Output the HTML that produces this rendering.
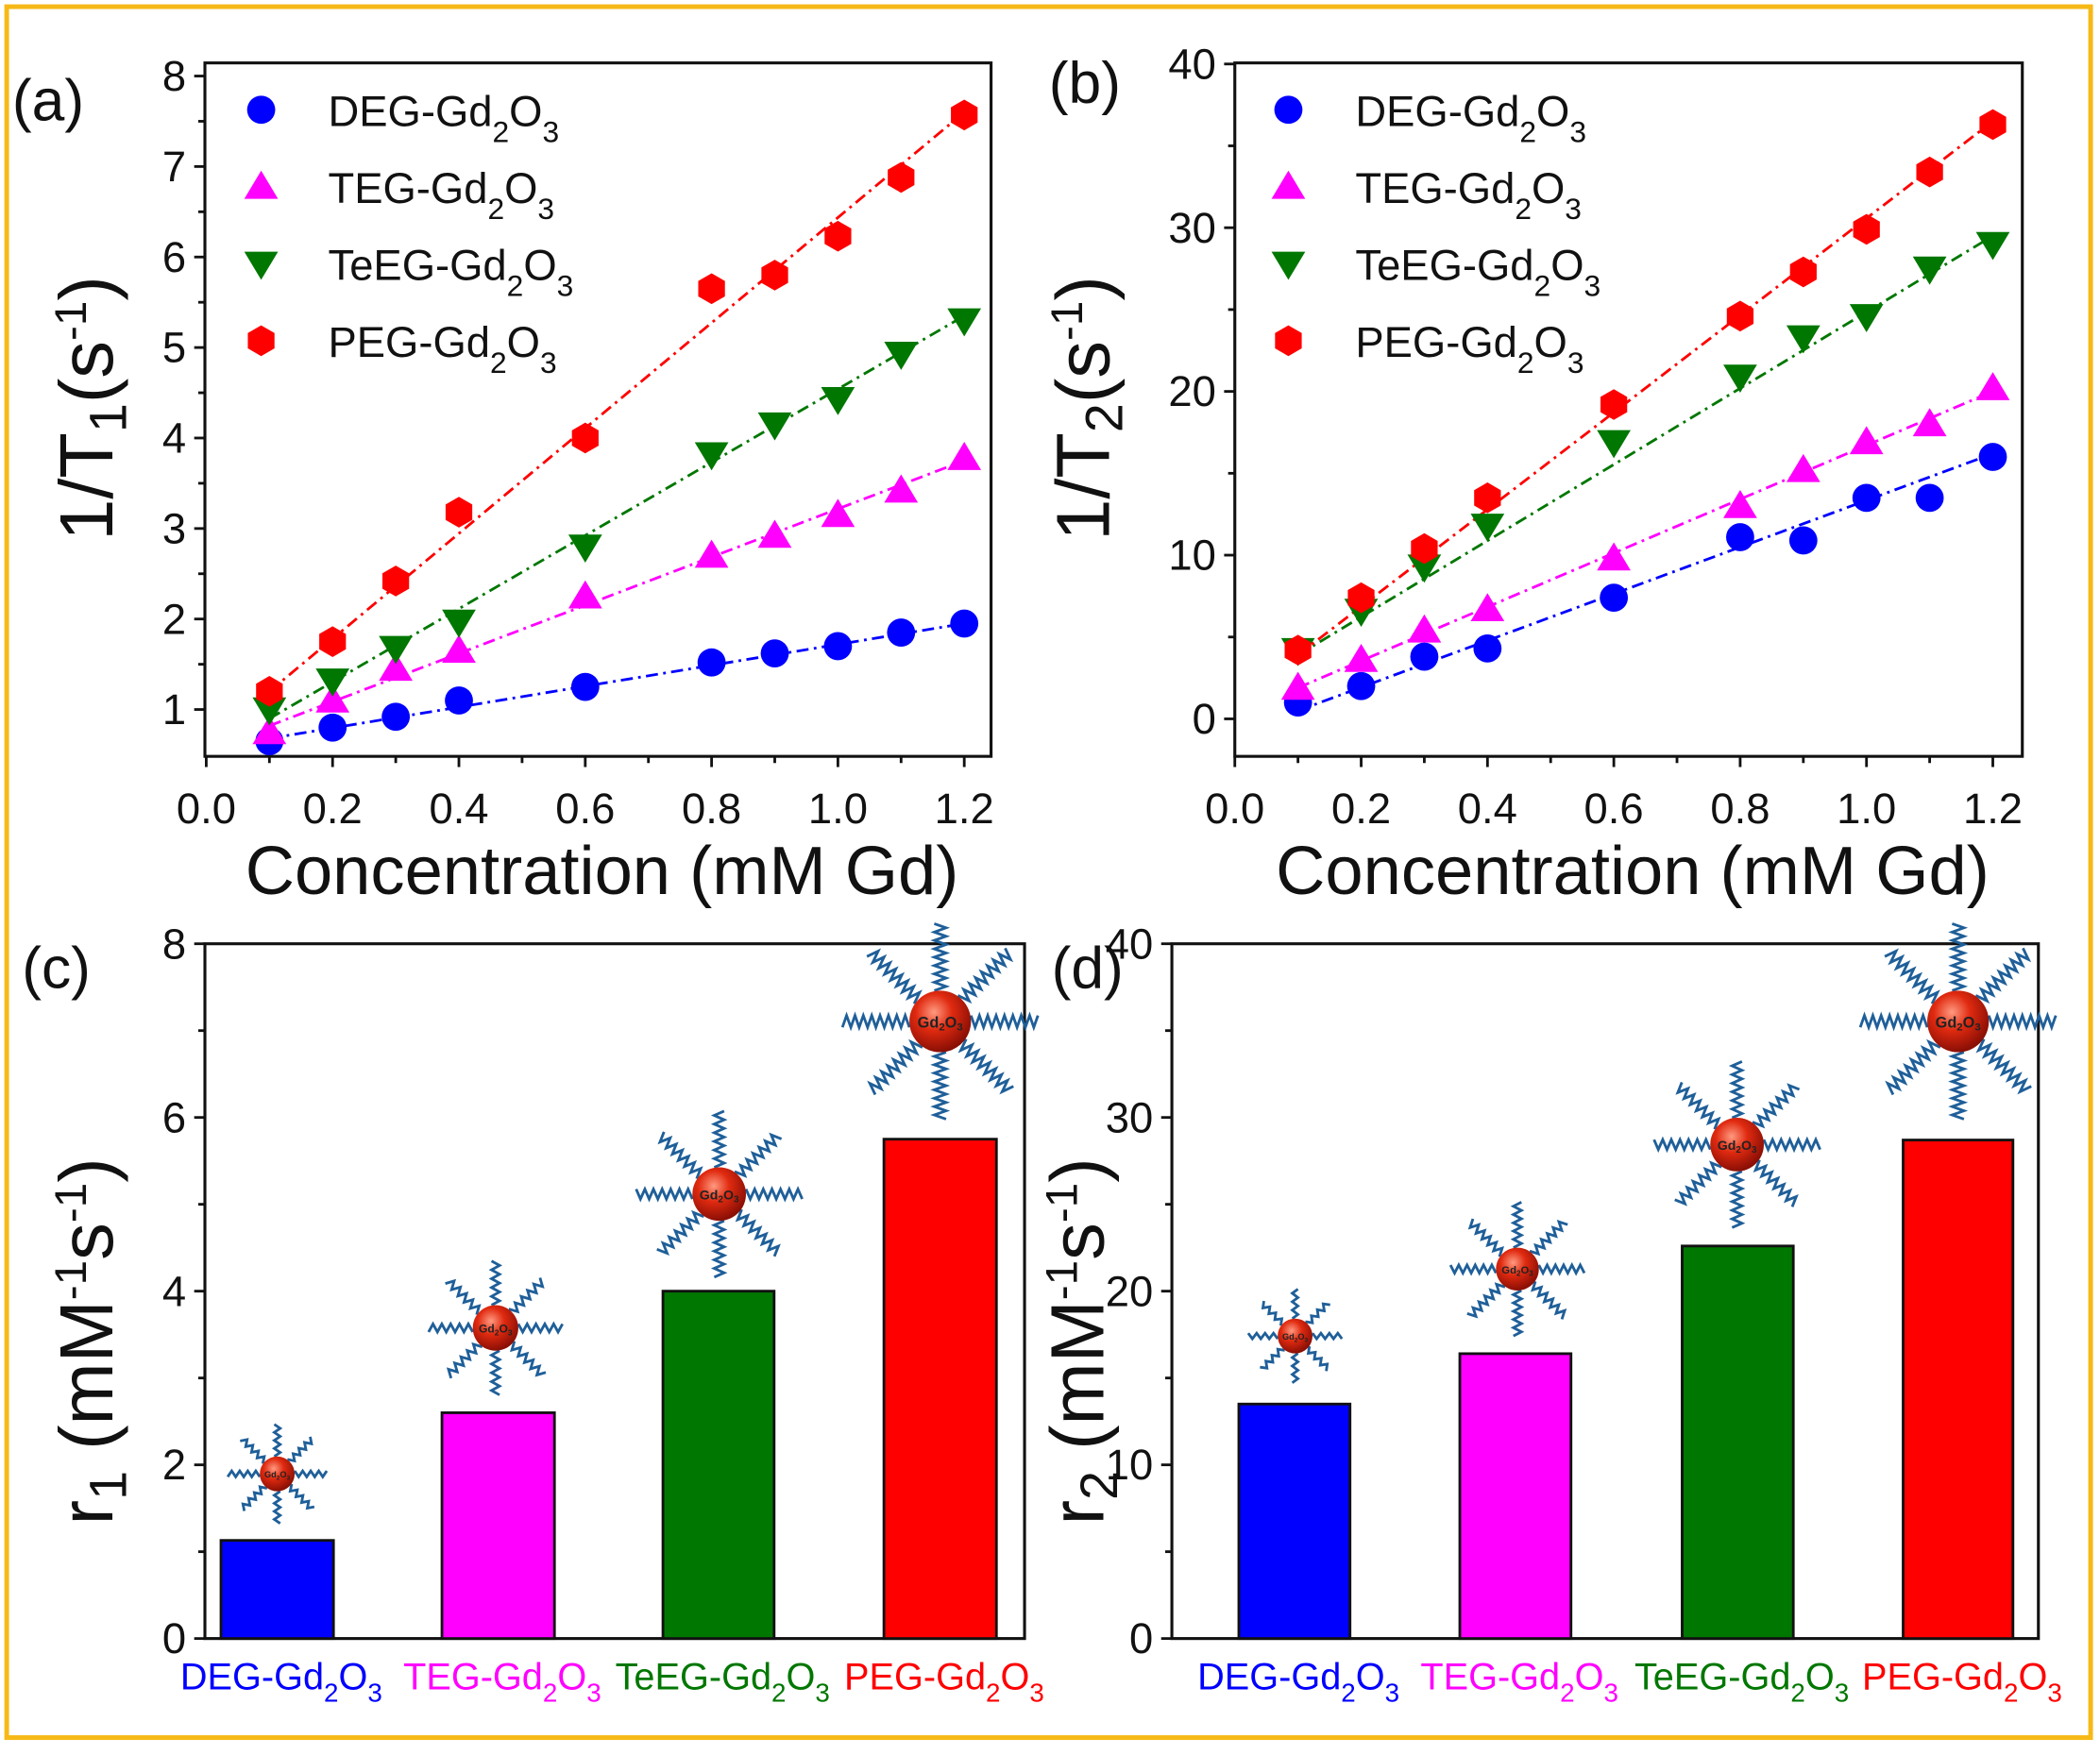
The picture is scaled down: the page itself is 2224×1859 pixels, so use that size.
<!DOCTYPE html>
<html><head><meta charset="utf-8"><style>
html,body{margin:0;padding:0;background:#fff}
svg{display:block}
text{font-family:"Liberation Sans",Arial,sans-serif}
</style></head><body>
<svg id="s" width="2224" height="1859" viewBox="0 0 1568 1311" preserveAspectRatio="none" xmlns="http://www.w3.org/2000/svg">
<defs>
<radialGradient id="sph" cx="0.4" cy="0.35" r="0.65">
<stop offset="0" stop-color="#ff9a80"/><stop offset="0.45" stop-color="#e02a10"/><stop offset="1" stop-color="#8a0f05"/>
</radialGradient>
</defs>
<rect x="5" y="5" width="1556" height="1293" fill="none" stroke="#f7b917" stroke-width="3.5"/>
<g id="g"></g>
</svg>
<script>
const NS="http://www.w3.org/2000/svg";const G=document.getElementById('g');
function el(t,a,txt){const e=document.createElementNS(NS,t);for(const k in a)e.setAttribute(k,a[k]);if(txt!==undefined)e.textContent=txt;G.appendChild(e);return e;}
function txt(x,y,s,size,anchor,fill,extra){const e=el('text',Object.assign({x:x,y:y,'font-size':size,'text-anchor':anchor||'middle',fill:fill||'#111'},extra||{}));e.innerHTML=s;return e;}
const sub=(n,d)=>`<tspan dy="${d}" font-size="70%">${n}</tspan>`;
function gdlabel(pre,dy){return pre+'-Gd'+sub('2',dy)+'<tspan dy="'+(-dy)+'">O</tspan>'+sub('3',dy);}
const C={b:'#0000ff',m:'#ff00ff',g:'#007700',r:'#ff0000'};
function marker(type,x,y,col,s){s=s||1;
 if(type=='c')el('circle',{cx:x,cy:y,r:10.5*s,fill:col});
 else if(type=='t'){const r=12*s;el('polygon',{points:`${x},${y-r} ${x+r*1.05},${y+r*0.75} ${x-r*1.05},${y+r*0.75}`,fill:col});}
 else if(type=='v'){const r=12*s;el('polygon',{points:`${x},${y+r} ${x+r*1.05},${y-r*0.75} ${x-r*1.05},${y-r*0.75}`,fill:col});}
 else {const r=11.5*s;let p=[];for(let i=0;i<6;i++){const a=Math.PI/6+i*Math.PI/3;p.push((x+r*Math.cos(a))+','+(y+r*Math.sin(a)));}el('polygon',{points:p.join(' '),fill:col});}
}
const xs=[0.1,0.2,0.3,0.4,0.6,0.8,0.9,1.0,1.1,1.2];
function linePanel(L,R,T,B,x0px,xStep,yAt,yTicks,minor,data,fits,ttl,legX){
 el('rect',{x:L,y:T,width:R-L,height:B-T,fill:'none',stroke:'#111','stroke-width':2.2});
 const X=v=>x0px+v/0.2*xStep;
 for(let i=0;i<=6;i++){const v=i*0.2,px=X(v);el('line',{x1:px,y1:B,x2:px,y2:B+8,stroke:'#111','stroke-width':2});txt(px,B+50,v.toFixed(1),32);
   if(i<6)el('line',{x1:X(v+0.1),y1:B,x2:X(v+0.1),y2:B+5,stroke:'#111','stroke-width':2});}
 yTicks.forEach(v=>{const py=yAt(v);el('line',{x1:L-8,y1:py,x2:L,y2:py,stroke:'#111','stroke-width':2});txt(L-14,py+11,v,32,'end');});
 minor.forEach(v=>{const py=yAt(v);if(py<B&&py>T)el('line',{x1:L-5,y1:py,x2:L,y2:py,stroke:'#111','stroke-width':2});});
 const types=['c','t','v','h'],cols=[C.b,C.m,C.g,C.r];
 fits.forEach((f,i)=>{el('line',{x1:X(0.1),y1:yAt(f[0]),x2:X(1.2),y2:yAt(f[1]),stroke:cols[i],'stroke-width':2,'stroke-dasharray':'9,4,2,4'});});
 data.forEach((d,i)=>d.forEach((v,j)=>marker(types[i],X(xs[j]),yAt(v),cols[i])));
 const names=['DEG','TEG','TeEG','PEG'];
 names.forEach((n,i)=>{const y=82+i*57.5;marker(types[i],legX,y,cols[i]);txt(legX+50,y+12,gdlabel(n,12),32,'start','#111');});
 txt((L+R)/2+3,668,'Concentration (mM Gd)',51);
}
linePanel(153,740,47,565,154,94.33,v=>530-(v-1)*67.6,[1,2,3,4,5,6,7,8],[1.5,2.5,3.5,4.5,5.5,6.5,7.5],
 [[0.65,0.8,0.92,1.1,1.25,1.52,1.62,1.7,1.85,1.95],
  [0.75,1.1,1.45,1.65,2.25,2.7,2.92,3.15,3.42,3.78],
  [1.0,1.32,1.68,1.97,2.8,3.82,4.15,4.43,4.93,5.3],
  [1.2,1.75,2.42,3.18,4.0,5.65,5.8,6.23,6.88,7.57]],
 [[0.68,1.95],[0.82,3.75],[0.9,5.35],[1.2,7.6]],'',195);
linePanel(922,1510,47,565,922,94.33,v=>537-v*12.23,[0,10,20,30,40],[5,15,25,35],
 [[1.0,2.0,3.8,4.3,7.4,11.1,10.9,13.5,13.5,16.0],
  [1.9,3.6,5.4,6.7,9.8,13.0,15.2,16.9,18.0,20.2],
  [4.2,6.6,9.3,11.8,16.9,20.9,23.3,24.6,27.5,29.0],
  [4.2,7.4,10.4,13.5,19.2,24.6,27.3,29.9,33.4,36.3]],
 [[0.5,16.2],[1.9,20],[3.9,29.5],[3.9,36.5]],'',962);
txt(36,90,'(a)',44);txt(810,77,'(b)',44);txt(42,738,'(c)',44);txt(812,738,'(d)',44);
function ttlT(n,x){txt(0,0,'1/T'+sub(n,10)+'<tspan dy="-10">(s</tspan><tspan dy="-20" font-size="60%">-1</tspan><tspan dy="20">)</tspan>',56,'middle','#111',{transform:`translate(${x},305) rotate(-90)`});}
ttlT('1',84);ttlT('2',828);
function ttlR(n,x){txt(0,0,'r'+sub(n,10)+'<tspan dy="-10"> (mM</tspan><tspan dy="-20" font-size="60%">-1</tspan><tspan dy="20">s</tspan><tspan dy="-20" font-size="60%">-1</tspan><tspan dy="20">)</tspan>',56,'middle','#111',{transform:`translate(${x},1002) rotate(-90)`});}
ttlR('1',84);ttlR('2',824);
function particle(cx,cy,r,arm){
 for(let k=0;k<8;k++){const a=k*Math.PI/4;const ux=Math.cos(a),uy=Math.sin(a),px=-uy,py=ux;
  let d='',n=Math.round((arm-r)/3.2);for(let i=0;i<=n;i++){const t=r+ (arm-r)*i/n,o=(i%2?1:-1)*arm*0.06;d+=(i?'L':'M')+(cx+ux*t+px*o).toFixed(1)+','+(cy+uy*t+py*o).toFixed(1);}
  el('path',{d:d,fill:'none',stroke:'#1f5f99','stroke-width':2});}
 el('circle',{cx:cx,cy:cy,r:r,fill:'url(#sph)'});
 txt(cx,cy+r*0.2,'Gd'+sub('2',2)+'<tspan dy="-2">O</tspan>'+sub('3',2),r*0.5,'middle','#222',{'font-weight':'bold'});
}
function barPanel(L,R,T,B,yMax,yTicks,bars,parts){
 const Y=v=>B-v/yMax*(B-T);
 el('rect',{x:L,y:T,width:R-L,height:B-T,fill:'none',stroke:'#111','stroke-width':2.2});
 yTicks.forEach(v=>{el('line',{x1:L-8,y1:Y(v),x2:L,y2:Y(v),stroke:'#111','stroke-width':2});txt(L-14,Y(v)+11,v,32,'end');
   const m=v+yTicks[1]/2;if(m<yMax)el('line',{x1:L-5,y1:Y(m),x2:L,y2:Y(m),stroke:'#111','stroke-width':2});});
 const cols=[C.b,C.m,C.g,C.r],names=['DEG','TEG','TeEG','PEG'];
 bars.forEach((b,i)=>{el('rect',{x:b[0],y:Y(b[2]),width:b[1]-b[0],height:B-Y(b[2]),fill:cols[i],stroke:'#111','stroke-width':2});
   txt((b[0]+b[1])/2+3,1262,gdlabel(names[i],9),28,'middle',cols[i]);});
 parts.forEach(p=>particle(p[0],p[1],p[2],p[3]));
}
barPanel(153,765,705,1224,8,[0,2,4,6,8],[[165,249,1.13],[330,414,2.6],[495,578,4.0],[660,744,5.75]],
 [[207,1101,13,37],[370,992,17,50],[537,892,20,62],[702,763,23,73]]);
barPanel(875,1522,705,1224,40,[0,10,20,30,40],[[925,1008,13.5],[1090,1173,16.4],[1256,1339,22.6],[1421,1503,28.7]],
 [[967,998,13,35],[1133,948,16,50],[1297,855,20,62],[1462,763,23,73]]);
</script>
</body></html>
